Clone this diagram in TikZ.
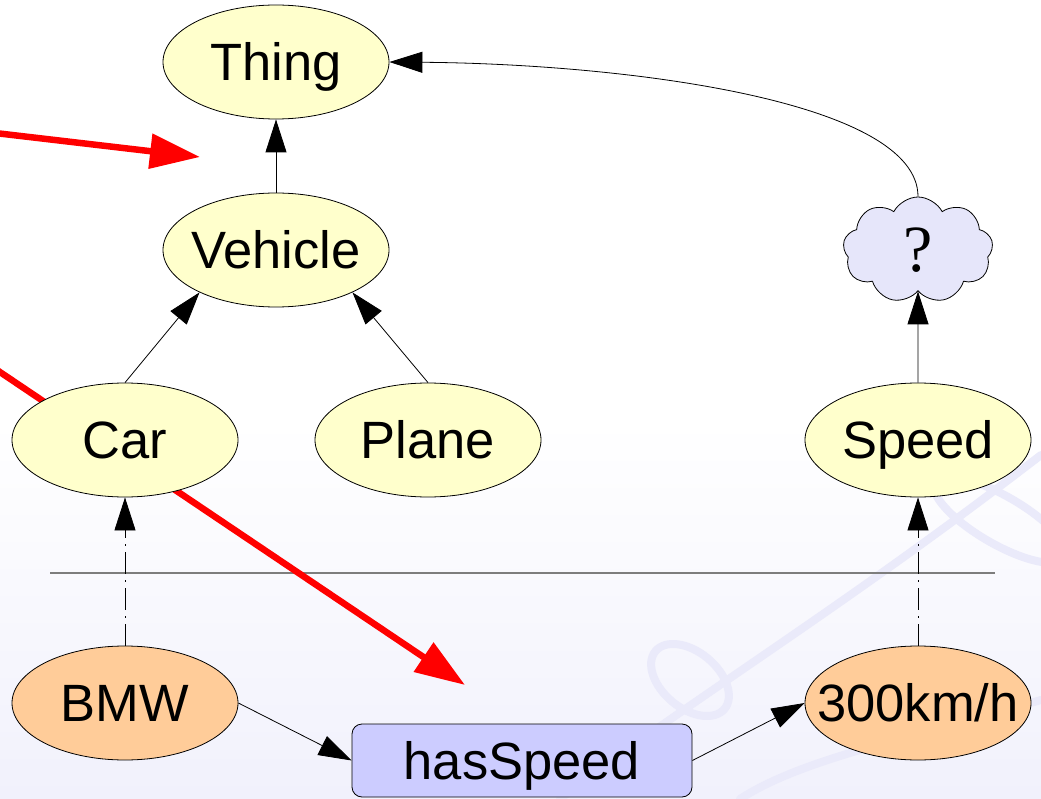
\documentclass[tikz,border=0pt]{standalone}
\usepackage{fontspec}
\setmainfont{Liberation Sans}
\newfontfamily\qfont{Liberation Serif}
\usetikzlibrary{arrows.meta,shapes.geometric,shapes.symbols}
\definecolor{clsfill}{HTML}{FFFFCC}
\definecolor{indfill}{HTML}{FFCC99}
\definecolor{propfill}{HTML}{CCCCFF}
\definecolor{cloudfill}{HTML}{E6E6FA}
\definecolor{wmark}{RGB}{234,234,250}
\definecolor{bgtint}{RGB}{241,241,252}
\definecolor{sepgray}{RGB}{125,125,125}
\newcommand\lblfont{\fontsize{52.5}{60}\selectfont}
\newcommand\lbl[1]{\makebox[0pt]{#1}}
\tikzset{
  cls/.style={ellipse, draw=black, line width=0.8pt, fill=clsfill,
    minimum width=226pt, minimum height=114pt, inner sep=0pt,
    font=\lblfont, text height=37pt, text depth=0pt},
  ind/.style={cls, fill=indfill},
  prop/.style={rectangle, rounded corners=10pt, draw=black, line width=0.8pt,
    fill=propfill, minimum width=340pt, minimum height=73pt, inner sep=0pt,
    font=\lblfont, text height=37pt, text depth=0pt},
  qcloud/.style={cloud, cloud puffs=9, cloud puff arc=125, aspect=1.4,
    draw=black, line width=0.8pt, fill=cloudfill, minimum width=150pt,
    minimum height=106pt, inner sep=0pt, font=\qfont\fontsize{66}{66}\selectfont},
  edge/.style={-{Triangle[length=33pt,width=21pt]}, line width=0.8pt},
  inst/.style={edge, dash pattern=on 22pt off 6pt on 2pt off 6pt},
  redarrow/.style={red, line width=6.5pt, -{Triangle[length=50pt,width=34pt]}},
  wm/.style={draw=wmark, line width=8pt, line cap=round}
}
\begin{document}
\begin{tikzpicture}[x=1pt,y=-1pt]
\useasboundingbox (0,0) rectangle (1041,799);
% faint background tint / watermark
\shade[top color=white, bottom color=bgtint] (0,420) rectangle (1041,799);
\draw[wm] (560,799) .. controls (690,700) and (840,610) .. (1041,455);
\draw[wm, rotate around={-30:(1000,520)}] (1000,520) ellipse (75 and 24);
\draw[wm, rotate around={-40:(690,680)}] (690,680) ellipse (45 and 28);
\draw[wm] (740,799) .. controls (800,760) and (900,740) .. (1041,700);
% separator
\draw[sepgray, line width=2pt] (50,573) -- (995,573);
% red annotation arrows
\coordinate (r1s) at (-5,133);
\coordinate (r1e) at (200,157);
\coordinate (r2s) at (-12,364);
\coordinate (r2e) at (465,685);
\draw[redarrow] (r1s) -- (r1e);
\draw[redarrow] (r2s) -- (r2e);
% nodes
\node[cls] (thing) at (276,62) {\lbl{Thing}};
\node[cls] (vehicle) at (276,250) {\lbl{Vehicle}};
\node[cls] (car) at (125,440) {\lbl{Car}};
\node[cls] (plane) at (428,440) {\lbl{Plane}};
\node[cls] (speed) at (918,440) {\lbl{Speed}};
\node[qcloud] (cloud) at (918,250) {?};
\node[ind] (bmw) at (125,703) {\lbl{BMW}};
\node[ind] (kmh) at (918,703) {\lbl{300km/h}};
\node[prop] (has) at (522,760.5) {hasSpeed};
% connectors
\draw[edge] (vehicle) -- (thing);
\draw[edge] (car.north) -- (vehicle.209);
\draw[edge] (plane.north) -- (vehicle.331);
\draw[edge] (speed.north) -- (cloud.south);
\draw[edge] (cloud.north) .. controls +(0,-95) and +(240,2) .. (thing.east);
\draw[inst] (bmw.north) -- (car.south);
\draw[inst] (kmh.north) -- (speed.south);
\draw[edge] (bmw.east) -- (has.west);
\draw[edge] (has.east) -- (kmh.west);
\end{tikzpicture}
\end{document}
